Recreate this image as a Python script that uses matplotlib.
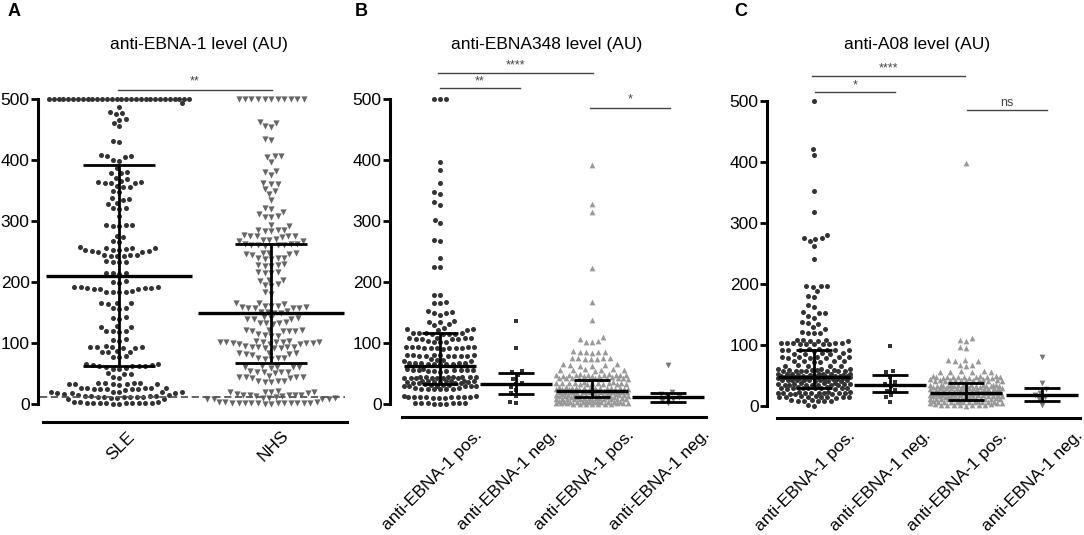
import numpy as np
import matplotlib
matplotlib.use("Agg")
import matplotlib.pyplot as plt

plt.rcParams['font.family'] = ['Liberation Sans', 'DejaVu Sans']

# ── Data (AU values, capped at 500) ───────────────────────────────────
sle_vals = [500, 500, 500, 500, 500, 500, 500, 500, 500, 500, 500, 500, 500, 500, 500,
            500, 500, 500, 500, 500, 500, 500, 500, 500, 500, 500, 500, 500, 500, 500,
            493, 487, 479, 477, 475, 467, 466, 461, 455, 431, 429,
            408, 407, 406, 405, 400, 399, 387, 380, 379, 378, 371, 369,
            365, 364, 364, 363, 363, 362, 357, 356, 355, 349, 347,
            337, 336, 335, 330, 328, 322, 321, 320, 308,
            294, 293, 293, 292, 292, 275, 273, 267, 265,
            257, 256, 256, 255, 254, 253, 252, 252, 251, 251, 250, 249,
            245, 244, 244, 243, 243, 242, 234, 233, 233, 232,
            215, 214, 214, 213, 201, 200, 199,
            192, 191, 191, 190, 190, 190, 189, 189, 188, 185, 184, 184, 183, 183,
            166, 165, 165, 164, 158, 157, 156, 142, 141, 140,
            128, 127, 126, 120, 119, 119, 118, 106, 105, 104,
            95, 94, 94, 93, 93, 92, 92, 87, 86, 86, 85, 78, 77, 77,
            65, 65, 64, 64, 63, 63, 62, 62, 61, 59, 58, 58,
            51, 50, 49, 44, 42,
            35, 35, 34, 34, 33, 33, 33, 32, 32, 31,
            27, 27, 26, 26, 26, 25, 25, 25, 24, 24, 23,
            20, 20, 19, 19, 19, 18, 18, 18, 17,
            14, 14, 13, 13, 13, 13, 12, 12, 12, 12, 11, 11, 10, 10, 9, 9,
            3, 3, 3, 2, 2, 2, 2, 2, 1, 1, 1, 1, 0, 0]

nhs_vals = [500, 500, 500, 500, 500, 500, 500, 500, 500, 500, 500,
            462, 461, 455, 454, 435, 433, 407, 406, 405, 397, 382, 380, 375,
            362, 361, 360, 352, 350, 344, 334, 322, 320, 314, 312, 308, 307, 306,
            294, 292, 286, 285, 285, 284, 283, 277, 276, 276, 275, 275, 274,
            270, 269, 269, 268, 268, 263, 262, 262, 261, 261, 260, 260, 259, 259,
            248, 247, 247, 246, 246, 245, 240, 239, 239, 238, 237,
            229, 228, 228, 227, 226, 217, 216, 215, 215, 204, 203, 202,
            196, 195, 194, 183, 181, 166, 165, 164,
            161, 160, 160, 159, 159, 158, 158, 157, 157, 152, 151, 151, 150, 150,
            142, 141, 141, 140, 140, 139, 134, 133, 133, 132, 131,
            122, 121, 121, 120, 120, 119, 119, 114, 113, 112, 112,
            103, 103, 102, 102, 102, 101, 101, 101, 100, 100, 100, 99, 99, 98,
            95, 94, 94, 93, 93, 92, 92, 91, 84, 83, 83, 82, 82, 81,
            76, 75, 75, 74, 74, 62, 61, 61, 60, 60, 59,
            54, 53, 53, 52, 52, 51, 46, 45, 45, 44, 44, 43, 43,
            38, 37, 37, 36, 36, 21, 20, 20, 19, 19, 18,
            16, 15, 15, 14, 14, 14, 13, 13, 11, 10, 10, 10, 9, 9, 9, 8,
            3, 3, 3, 2, 2, 2, 2, 2, 2, 1, 1, 1, 1, 1, 0, 0]

b1_vals = [500, 500, 500, 397, 384, 363, 348, 345, 331, 327, 302, 297, 269, 268, 240, 225, 224,
           179, 178, 167, 166, 165, 152, 151, 150, 149, 146, 136, 135, 134, 131, 129,
           124, 123, 123, 122, 121, 117, 117, 116, 116, 115, 115, 114, 114,
           109, 109, 108, 108, 107, 107, 106, 106, 103, 102, 102, 101,
           94, 94, 93, 93, 93, 92, 92, 92, 91, 91, 91, 90,
           81, 81, 80, 80, 80, 79, 79, 79, 78, 78, 78, 73, 72, 72, 71, 71,
           68, 68, 67, 67, 67, 66, 66, 66, 65, 65,
           57, 57, 56, 56, 56, 55, 55, 55, 54, 54, 54, 53,
           45, 45, 45, 44, 44, 44, 44, 43, 43, 43, 43, 42, 42, 42,
           38, 38, 37, 37, 37, 37, 36, 36, 36, 36, 35, 35, 35, 35,
           32, 31, 31, 31, 30, 30, 30, 30, 29, 29, 26, 26, 25, 25, 25, 24, 24, 24,
           13, 13, 12, 12, 12, 12, 11, 11, 11, 11, 10, 10, 10,
           2, 2, 1, 1, 1, 1, 0, 0, 0]
b2_vals = [136, 91, 54, 52, 47, 41, 35, 33, 28, 23, 18, 13, 3, 1]
b3_vals = [392, 328, 315, 223, 168, 138, 110, 107, 103, 102, 101,
           87, 86, 86, 85, 85, 84, 76, 76, 75, 75, 74, 74, 73,
           65, 65, 64, 64, 63, 63, 57, 57, 56, 56, 55, 55, 54,
           49, 49, 48, 48, 48, 48, 47, 47, 47, 47, 46, 46, 46, 46,
           44, 43, 43, 43, 43, 42, 42, 42, 42, 41, 41, 41,
           36, 36, 35, 35, 35, 35, 34, 34, 34, 34, 33, 33, 33, 33, 33,
           28, 28, 27, 27, 27, 27, 26, 26, 26, 26, 26, 25, 25, 25, 25, 25, 24, 24,
           22, 22, 21, 21, 21, 21, 20, 20, 20, 20, 20, 19, 19, 19, 19, 19, 18, 18,
           16, 16, 16, 15, 15, 15, 15, 15, 14, 14, 14, 14, 14, 13, 13, 13, 13, 12,
           11, 11, 11, 10, 10, 10, 10, 10, 9, 9, 9, 9, 9, 8, 8, 8, 8, 7,
           5, 5, 5, 4, 4, 4, 4, 4, 3, 3, 3, 3, 3, 2, 2, 2,
           1, 1, 1, 0, 0, 0, 0, 0, 0, 0]
b4_vals = [64, 20, 16, 13, 11, 8, 5, 1]

c1_vals = [500, 421, 411, 353, 318, 280, 276, 275, 274, 270, 263, 241,
           197, 196, 196, 195, 188, 181, 179, 165, 163, 154, 153, 152, 147, 145,
           137, 136, 135, 129, 127, 121, 120, 120, 119, 109, 108, 108, 107, 107, 106,
           104, 104, 103, 103, 103, 102, 102, 102, 101, 101,
           93, 93, 92, 92, 92, 91, 91, 91, 90, 87, 87, 86, 86, 85,
           81, 81, 80, 80, 80, 79, 79, 78, 74, 74, 73, 73, 72, 72, 67, 66, 66, 65, 65,
           60, 60, 60, 59, 59, 59, 59, 58, 58, 58, 58, 57, 57, 57,
           53, 53, 53, 52, 52, 52, 52, 51, 51, 51, 51, 50, 50, 50,
           49, 49, 49, 48, 48, 48, 48, 48, 47, 47, 47, 47, 46, 46, 46,
           44, 44, 44, 43, 43, 43, 43, 42, 42, 42, 42, 41, 41, 41,
           37, 37, 37, 36, 36, 36, 36, 35, 35, 35, 35, 34, 34, 34,
           31, 31, 30, 30, 30, 30, 29, 29, 29, 29, 28, 28,
           23, 23, 23, 22, 22, 22, 22, 21, 21, 21, 21, 20, 20, 20,
           16, 16, 15, 15, 15, 15, 14, 14, 14, 13, 10, 10, 9, 9, 9, 8, 8, 1, 0]
c2_vals = [99, 57, 55, 48, 40, 36, 33, 26, 25, 18, 14, 7]
c3_vals = [399, 111, 108, 106, 97, 95, 76, 75, 74, 73, 68, 67, 66,
           57, 57, 56, 56, 55, 55,
           49, 49, 49, 48, 48, 48, 48, 47, 47, 47, 47, 46, 46, 46,
           44, 44, 43, 43, 43, 43, 42, 42, 42, 42, 41, 41, 41, 41,
           35, 35, 35, 35, 34, 34, 34, 34, 34, 33, 33, 33, 33, 33, 32, 32, 32, 32,
           31, 31, 30, 30, 30, 30, 30, 29, 29, 29, 29, 29, 28, 28, 28, 28, 28, 27,
           24, 24, 24, 23, 23, 23, 23, 23, 22, 22, 22, 22, 22, 21, 21, 21, 21, 21,
           19, 19, 19, 18, 18, 18, 18, 18, 17, 17, 17, 17, 17, 16, 16, 16, 16, 16,
           14, 14, 14, 13, 13, 13, 13, 13, 12, 12, 12, 12, 12, 11, 11, 11, 11, 11,
           8, 8, 8, 7, 7, 7, 7, 7, 6, 6, 6, 6, 6, 5, 5, 5,
           3, 3, 2, 2, 2, 2, 1, 1, 1, 0]
c4_vals = [80, 37, 28, 22, 18, 15, 11, 2]

# median and interquartile range per group
a_labels = ['SLE', 'NHS']
a_median = [210, 150]
a_q1 = [62, 67]
a_q3 = [392, 262]

bc_labels = ['anti-EBNA-1 pos.', 'anti-EBNA-1 neg.', 'anti-EBNA-1 pos.', 'anti-EBNA-1 neg.']
b_median = [63, 33, 21, 12]
b_q1 = [33, 17, 12, 4]
b_q3 = [116, 51, 40, 18]
c_median = [48, 34, 22, 18]
c_q1 = [30, 23, 10, 9]
c_q3 = [92, 51, 37, 29]

a_cutoff = 12

W, H = 1084, 535
YPX = 0.61  # pixels per AU

fig = plt.figure(figsize=(W / 100, H / 100), dpi=100)


def make_ax(left, right, x0, unit, zero, bottom, top):
    ax = fig.add_axes([left / W, 1 - bottom / H, (right - left) / W, (bottom - top) / H])
    ax.set_xlim((left - x0) / unit, (right - x0) / unit)
    ax.set_ylim((zero - bottom) / YPX, (zero - top) / YPX)
    for s in ['top', 'right']:
        ax.spines[s].set_visible(False)
    ax.spines['left'].set_linewidth(2.2)
    ax.spines['bottom'].set_linewidth(2.2)
    ax.spines['left'].set_bounds(0, 500)
    ax.set_yticks([0, 100, 200, 300, 400, 500])
    ax.tick_params(axis='y', direction='out', length=5, width=2, labelsize=12.5, pad=1)
    ax.set_xticks([])
    return ax


# simple beeswarm in pixel space; points that do not fit inside half_px overlap
def swarm(vals, unit, d, half_px):
    ys = np.sort(np.asarray(vals, float))
    grid = np.arange(-half_px, half_px + 0.01, 0.25)
    grid = grid[np.argsort(np.abs(grid), kind='stable')]
    px, py = [], []
    # long runs of identical values (e.g. capped at 500) get one evenly packed row
    uniq, counts = np.unique(ys, return_counts=True)
    packed = set()
    for u, n in zip(uniq, counts):
        if (n - 1) * d > 2 * half_px:
            packed.add(u)
            sp = 2 * half_px / (n - 1)
            for k in range(n):
                px.append(-half_px + k * sp)
                py.append(u * YPX)
    for v in ys:
        if v in packed:
            continue
        y = v * YPX
        x = 0.0
        if px:
            ax_ = np.array(px)
            ay_ = np.array(py)
            near = np.abs(ay_ - y) < d
            if near.any():
                dx = grid[:, None] - ax_[near][None, :]
                dy = y - ay_[near]
                dist = np.sqrt(dx ** 2 + dy[None, :] ** 2).min(axis=1)
                ok = dist >= d - 1e-6
                x = grid[np.argmax(ok)] if ok.any() else grid[np.argmax(dist)]
        px.append(x)
        py.append(y)
    return np.array(px) / unit, np.array(py) / YPX


def draw_group(ax, xc, vals, unit, marker, color, size, d, half_px):
    xo, ys = swarm(vals, unit, d, half_px)
    ax.scatter(xc + xo, ys, marker=marker, s=size, color=color, linewidths=0, zorder=2)


def draw_bars(ax, med, q1, q3):
    for i in range(len(med)):
        ax.hlines(med[i], i - 0.48, i + 0.48, color='black', lw=2.4, zorder=4)
        ax.hlines([q1[i], q3[i]], i - 0.24, i + 0.24, color='black', lw=2.0, zorder=4)
        ax.vlines(i, q1[i], q3[i], color='black', lw=2.0, zorder=4)


def sig(ax, x1, x2, y, txt, dy):
    ax.plot([x1, x2], [y, y], color='#444444', lw=1.0, clip_on=False)
    ax.text((x1 + x2) / 2, y + dy, txt, ha='center', va='center', fontsize=9, color='#444444')


def xlabels(ax, labels, ylab, dx):
    for i, lab in enumerate(labels):
        ax.text(i + dx, ylab, lab, rotation=45, rotation_mode='anchor', ha='center',
                va='center', fontsize=12.5, clip_on=False)


# ── Panel A ────────────────────────────────────────────────
axA = make_ax(38, 348, 119, 152, 404, 422, 55)
axA.spines['bottom'].set_bounds(-0.5, 1.5)
draw_group(axA, 0, sle_vals, 152, 'o', '#333333', 13, 6.4, 70)
draw_group(axA, 1, nhs_vals, 152, 'v', '#666666', 20, 6.4, 72)
axA.plot([-0.52, 1.49], [a_cutoff, a_cutoff], color='#555555', lw=1.3,
         linestyle=(0, (4, 2)), zorder=3)
draw_bars(axA, a_median, a_q1, a_q3)
sig(axA, -0.007, 1.007, 515, '**', 13)
xlabels(axA, a_labels, (404 - 446) / YPX, 2 / 152)

# ── Panel B ────────────────────────────────────────────────
axB = make_ax(390, 708, 440, 76, 404, 417, 55)
axB.spines['bottom'].set_bounds(-0.5, 3.5)
draw_group(axB, 0, b1_vals, 76, 'o', '#333333', 13, 6.2, 36)
draw_group(axB, 1, b2_vals, 76, 's', '#333333', 12, 6.0, 36)
draw_group(axB, 2, b3_vals, 76, '^', '#999999', 17, 6.2, 36)
draw_group(axB, 3, b4_vals, 76, 'v', '#777777', 17, 6.2, 36)
draw_bars(axB, b_median, b_q1, b_q3)
sig(axB, -0.026, 2.01, 543, '****', 12)
sig(axB, 0.0, 1.05, 518, '**', 11)
sig(axB, 1.97, 3.03, 485, '*', 14)
xlabels(axB, bc_labels, (404 - 480) / YPX, -8 / 76)

# ── Panel C ────────────────────────────────────────────────
axC = make_ax(767, 1083, 814, 76, 406, 418, 55)
axC.spines['bottom'].set_bounds(-0.49, 3.5)
draw_group(axC, 0, c1_vals, 76, 'o', '#333333', 13, 6.2, 36)
draw_group(axC, 1, c2_vals, 76, 's', '#333333', 12, 6.0, 36)
draw_group(axC, 2, c3_vals, 76, '^', '#999999', 17, 6.2, 36)
draw_group(axC, 3, c4_vals, 76, 'v', '#777777', 17, 6.2, 36)
draw_bars(axC, c_median, c_q1, c_q3)
sig(axC, -0.03, 1.99, 541, '****', 12)
sig(axC, 0.01, 1.07, 515, '*', 11)
sig(axC, 2.01, 3.07, 485, 'ns', 12)
xlabels(axC, bc_labels, (406 - 481) / YPX, -9 / 76)

# titles and panel letters
for x, txt in [(199, 'anti-EBNA-1 level (AU)'), (547, 'anti-EBNA348 level (AU)'),
               (917, 'anti-A08 level (AU)')]:
    fig.text(x / W, 1 - 45 / H, txt, ha='center', va='center', fontsize=12.5)
for x, txt in [(8, 'A'), (355, 'B'), (734, 'C')]:
    fig.text(x / W, 1 - 12 / H, txt, ha='left', va='center', fontsize=13, fontweight='bold')

fig.savefig('out.png', dpi=100)
